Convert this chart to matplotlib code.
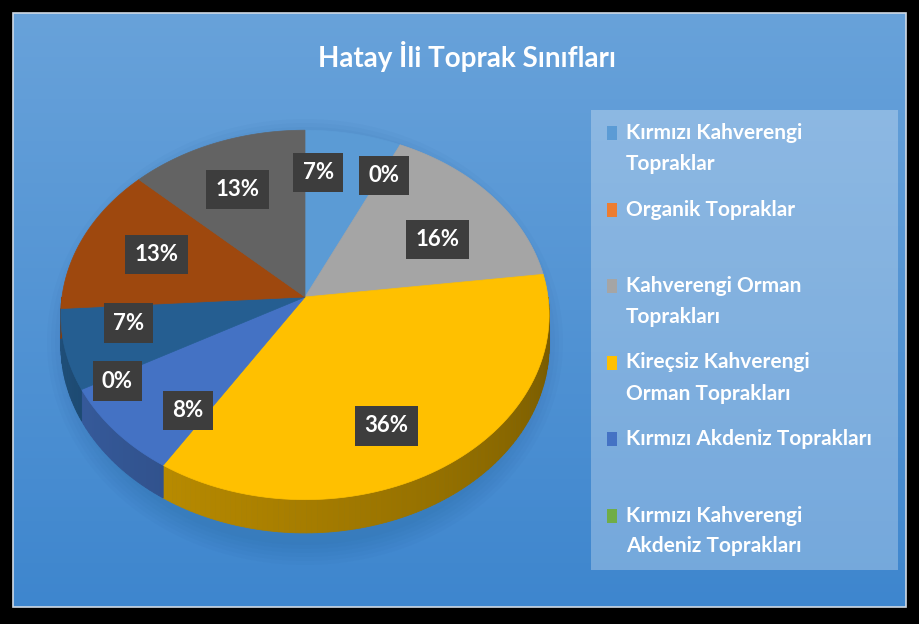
import numpy as np
import matplotlib.pyplot as plt
from matplotlib.patches import Polygon, Rectangle, Ellipse
from matplotlib.colors import to_rgb

title = "Hatay İli Toprak Sınıfları"
shares = [7, 0, 16, 36, 8, 0, 7, 13, 13]
colors = ['#5B9BD5', '#ED7D31', '#A5A5A5', '#FFC000', '#4472C4', '#70AD47',
          '#255E91', '#9E480E', '#636363']
legend_labels = ["Kırmızı Kahverengi\nTopraklar",
                 "Organik Topraklar",
                 "Kahverengi Orman\nToprakları",
                 "Kireçsiz Kahverengi\nOrman Toprakları",
                 "Kırmızı Akdeniz Toprakları",
                 "Kırmızı Kahverengi\nAkdeniz Toprakları"]

# label placement (radius fraction, angle nudge in degrees) like Excel did it
label_r = [0.73, 0.79, 0.65, 0.73, 0.74, 0.86, 0.73, 0.67, 0.69]
label_shift = [-8, 1, 6, 7, -9, -2, 5, 1, -2]

# 3d pie geometry (pixels)
cx, cy = 305, 297
rx, ry = 243, 183
dist = 10.3
depth = 30


def proj(theta, r=1.0):
    X = r * np.sin(theta)
    Z = -r * np.cos(theta)
    s = dist / (dist - Z)
    return cx + rx * X * s, cy + ry * Z * s, s


def shade(c, f):
    return tuple(np.clip(np.array(to_rgb(c)) * f, 0, 1))


fig = plt.figure(figsize=(9.2, 6.24), dpi=100, facecolor='black')
ax = fig.add_axes([0, 0, 1, 1])
ax.set_xlim(0, 920)
ax.set_ylim(624, 0)
ax.axis('off')

# background panel with gradient
top = np.array([104, 162, 218]) / 255
bot = np.array([62, 134, 206]) / 255
g = np.linspace(0, 1, 256)[:, None, None]
img = top * (1 - g) + bot * g
img = np.repeat(img, 2, axis=1)
ax.imshow(img, extent=(13, 906, 607, 13), aspect='auto', zorder=0)
ax.add_patch(Rectangle((13, 13), 893, 594, fill=False, ec='#cfd9e4', lw=1.2, zorder=1))

# soft shadow under the pie
for k in range(6):
    ax.add_patch(Ellipse((cx, cy + 45), 2 * rx + 30 - k * 8, 2 * ry + 80 - k * 8,
                         fc='#1d4f86', ec='none', alpha=0.035, zorder=1))

bounds = np.cumsum([0] + shares) / sum(shares) * 2 * np.pi

# rim (front half only)
for i, c in enumerate(colors):
    a0, a1 = max(bounds[i], np.pi / 2), min(bounds[i + 1], 1.5 * np.pi)
    if a1 <= a0:
        continue
    ts = np.linspace(a0, a1, max(3, int((a1 - a0) / 0.02)))
    for t0, t1 in zip(ts[:-1], ts[1:]):
        x0, y0, s0 = proj(t0)
        x1, y1, s1 = proj(t1)
        f = 0.45 + 0.4 * ((t0 + t1) / 2 - np.pi / 2) / np.pi
        col = shade(c, f)
        ax.add_patch(Polygon([(x0, y0), (x1, y1), (x1, y1 + depth * s1), (x0, y0 + depth * s0)],
                             closed=True, fc=col, ec=col, lw=0.6, zorder=2))

# top faces
for i, c in enumerate(colors):
    if shares[i] == 0:
        continue
    ts = np.linspace(bounds[i], bounds[i + 1], 80)
    pts = [(cx, cy)] + [proj(t)[:2] for t in ts]
    ax.add_patch(Polygon(pts, closed=True, fc=c, ec=c, lw=0.5, zorder=3))

# data labels
for i, v in enumerate(shares):
    mid = (bounds[i] + bounds[i + 1]) / 2 + np.radians(label_shift[i])
    x, y, _ = proj(mid, label_r[i])
    ax.text(x, y, f"{v}%", ha='center', va='center', fontsize=16, fontweight='bold',
            family='Lato', color='white', zorder=5,
            bbox=dict(boxstyle='square,pad=0.42', fc='#3d3d3d', ec='none'))

ax.text(467, 56, title, ha='center', va='center', fontsize=20, fontweight='bold',
        family='Lato', color='white', zorder=5)

# legend
ax.add_patch(Rectangle((591, 110), 307, 460, fc='white', ec='none', alpha=0.28, zorder=1))
for i, lab in enumerate(legend_labels):
    y0 = 133 + i * 76.5
    ax.add_patch(Rectangle((607, y0 - 7), 10, 14, fc=colors[i], ec='none', zorder=4))
    for j, line in enumerate(lab.split("\n")):
        ax.text(626, y0 + j * 31, line, ha='left', va='center', fontsize=15,
                fontweight='bold', family='Lato', color='white', zorder=5)

fig.savefig('out.png', dpi=100, facecolor='black')
